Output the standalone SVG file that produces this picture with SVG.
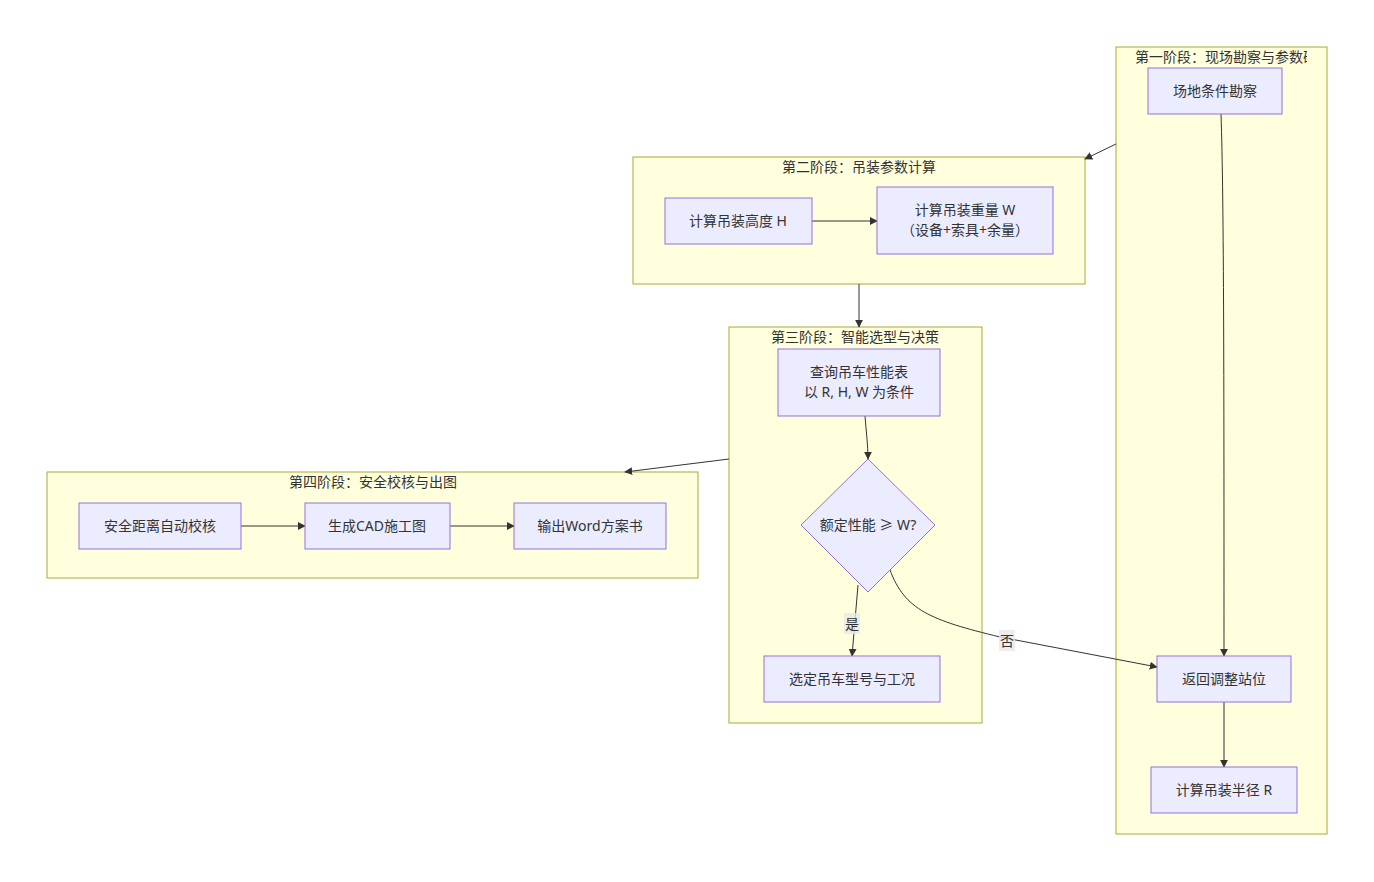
<svg xmlns="http://www.w3.org/2000/svg" width="1374" height="882" viewBox="0 0 1374 882">
<style>
.cl{fill:#ffffde;stroke:#aaaa33;stroke-width:1}
.nd{fill:#ececff;stroke:#9370db;stroke-width:1}
.t{font-family:"Noto Sans","Noto Sans CJK SC",sans-serif;font-size:14px;fill:#333;text-anchor:middle;dominant-baseline:central}
.e{fill:none;stroke:#333;stroke-width:1}
.lb{fill:#e8e8e8;opacity:0.8}
</style>
<defs>
<marker id="ah" viewBox="0 0 10 10" refX="9" refY="5" markerWidth="8" markerHeight="8" markerUnits="userSpaceOnUse" orient="auto">
<path d="M0,0 L10,5 L0,10 z" fill="#333"/>
</marker>
<clipPath id="c1"><rect x="1116" y="47" width="191" height="787"/></clipPath>
</defs>
<rect width="1374" height="882" fill="#fff"/>
<g id="cluster1">
<rect class="cl" x="1116" y="47" width="211" height="787"/>
<text class="t" x="1135" y="56" clip-path="url(#c1)" style="text-anchor:start">第一阶段：现场勘察与参数确定</text>
</g>
<g id="cluster2">
<rect class="cl" x="633" y="157" width="452" height="127"/>
<text class="t" x="859" y="166">第二阶段：吊装参数计算</text>
</g>
<g id="cluster3">
<rect class="cl" x="729" y="327" width="253" height="396"/>
<text class="t" x="855" y="336">第三阶段：智能选型与决策</text>
</g>
<g id="cluster4">
<rect class="cl" x="47" y="472" width="651" height="106"/>
<text class="t" x="373" y="481">第四阶段：安全校核与出图</text>
</g>
<g id="connectors">
<path class="e" d="M1221,114 C1224,200 1224,400 1224,656" marker-end="url(#ah)"/>
<path class="e" d="M1224,702 L1224,767" marker-end="url(#ah)"/>
<path class="e" d="M1116,144 L1085,159" marker-end="url(#ah)"/>
<path class="e" d="M812,221 L877,221" marker-end="url(#ah)"/>
<path class="e" d="M859,284 L859,327" marker-end="url(#ah)"/>
<path class="e" d="M865,416 C866,430 868,445 868,459" marker-end="url(#ah)"/>
<path class="e" d="M858,585 L852,656" marker-end="url(#ah)"/>
<path class="e" d="M890,570 C905,610 930,620 1000,637 L1157,667" marker-end="url(#ah)"/>
<path class="e" d="M729,459 L625,472" marker-end="url(#ah)"/>
<path class="e" d="M241,526 L305,526" marker-end="url(#ah)"/>
<path class="e" d="M450,526 L514,526" marker-end="url(#ah)"/>
<rect class="lb" x="844" y="613" width="16" height="21"/>
<text class="t" x="852" y="623">是</text>
<rect class="lb" x="999" y="630" width="16" height="21"/>
<text class="t" x="1007" y="640">否</text>
</g>
<g id="n_site"><rect class="nd" x="1148" y="68" width="134" height="46"/><text class="t" x="1215" y="90">场地条件勘察</text></g>
<g id="n_back"><rect class="nd" x="1157" y="656" width="134" height="46"/><text class="t" x="1224" y="678">返回调整站位</text></g>
<g id="n_radius"><rect class="nd" x="1151" y="767" width="146" height="46"/><text class="t" x="1224" y="789">计算吊装半径 R</text></g>
<g id="n_height"><rect class="nd" x="665" y="198" width="147" height="46"/><text class="t" x="738" y="220">计算吊装高度 H</text></g>
<g id="n_weight"><rect class="nd" x="877" y="187" width="176" height="67"/><text class="t" x="965" y="209">计算吊装重量 W</text><text class="t" x="965" y="229">（设备+索具+余量）</text></g>
<g id="n_query"><rect class="nd" x="778" y="349" width="162" height="67"/><text class="t" x="859" y="371">查询吊车性能表</text><text class="t" x="859" y="391">以 R, H, W 为条件</text></g>
<g id="n_dec"><polygon class="nd" points="868,459 935,525 868,592 801,525"/><text class="t" x="868" y="524">额定性能 ≥ W?</text></g>
<g id="n_sel"><rect class="nd" x="764" y="656" width="176" height="46"/><text class="t" x="852" y="678">选定吊车型号与工况</text></g>
<g id="n_safe"><rect class="nd" x="79" y="503" width="162" height="46"/><text class="t" x="160" y="525">安全距离自动校核</text></g>
<g id="n_cad"><rect class="nd" x="305" y="503" width="145" height="46"/><text class="t" x="377" y="525">生成CAD施工图</text></g>
<g id="n_word"><rect class="nd" x="514" y="503" width="152" height="46"/><text class="t" x="590" y="525">输出Word方案书</text></g>
</svg>
